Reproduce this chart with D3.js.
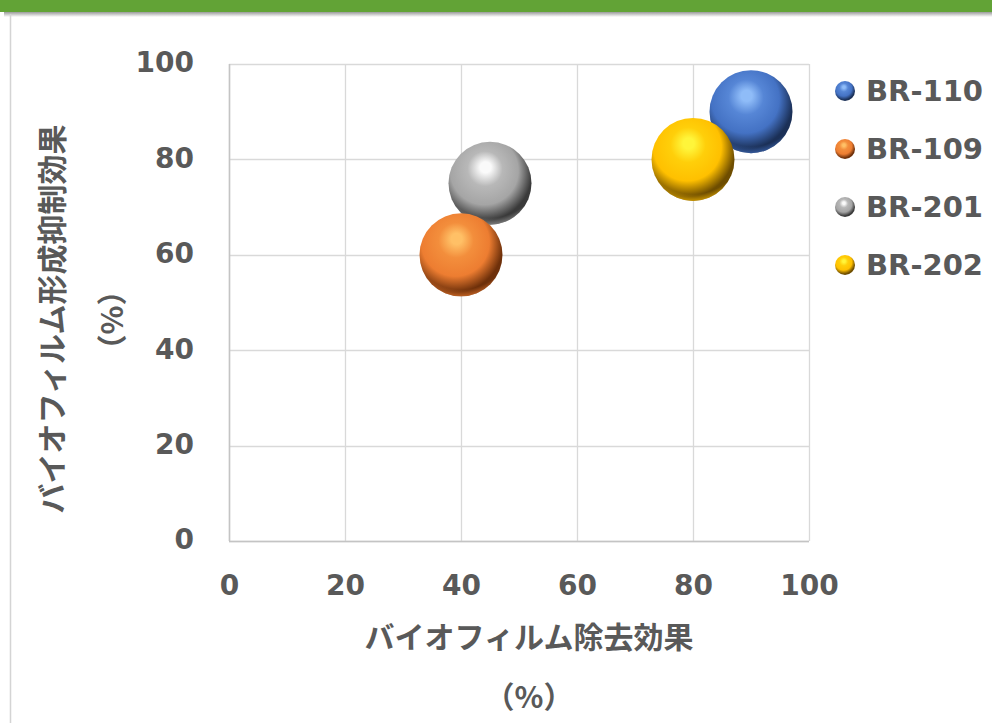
<!DOCTYPE html>
<html><head><meta charset="utf-8">
<script src="https://cdn.jsdelivr.net/npm/d3@7/dist/d3.min.js"></script>
<style>
html,body{margin:0;padding:0;background:#fff;}
svg{display:block;}
</style></head>
<body>
<svg id="chart" width="992" height="723"></svg>
<script>
const categories = ["BR-110", "BR-109", "BR-201", "BR-202"];
const xValues = [90, 40, 45, 80];
const yValues = [90, 60, 75, 80];
const sizes = [10, 10, 10, 10];
const xTicks = [0, 20, 40, 60, 80, 100];
const yTicks = [0, 20, 40, 60, 80, 100];
const xTitle = ["バイオフィルム除去効果", "（%）"];
const yTitle = ["バイオフィルム形成抑制効果", "（%）"];
const colors = [
  {base:"#4472c4", hi:"#8fbcf8", mid:"#5686d6", dark:"#1b3057"},
  {base:"#ed7d31", hi:"#ffc066", mid:"#f38e3c", dark:"#6e300a"},
  {base:"#a5a5a5", hi:"#fafafa", mid:"#b8b8b8", dark:"#3a3a3a"},
  {base:"#ffc000", hi:"#fff53a", mid:"#ffcf0a", dark:"#6e4d00"}
];
const drawOrder = [0, 2, 1, 3];

const svg = d3.select("#chart");
const W = 992, H = 723;
const m = {left: 229, right: 809, top: 64, bottom: 541};
const textColor = "#595959";
const latin = "'DejaVu Sans', Verdana, sans-serif";
const cjk = "'Noto Sans CJK JP', 'DejaVu Sans', sans-serif";

// frame
svg.append("rect").attr("x",0).attr("y",0).attr("width",W).attr("height",H).attr("fill","#fff");
const defs = svg.append("defs");
const sh = defs.append("linearGradient").attr("id","shadow").attr("x1",0).attr("y1",0).attr("x2",0).attr("y2",1);
sh.append("stop").attr("offset","0%").attr("stop-color","#9a9a9a");
sh.append("stop").attr("offset","100%").attr("stop-color","#ffffff");
svg.append("rect").attr("x",4).attr("y",12).attr("width",W).attr("height",5).attr("fill","url(#shadow)");
svg.append("rect").attr("x",0).attr("y",0).attr("width",W).attr("height",12).attr("fill","#62a336");
svg.append("line").attr("x1",10.5).attr("x2",10.5).attr("y1",14).attr("y2",H).attr("stroke","#d4d4d4").attr("stroke-width",1.5);

const x = d3.scaleLinear().domain([0,100]).range([m.left, m.right]);
const y = d3.scaleLinear().domain([0,100]).range([m.bottom, m.top]);
const r = d3.scaleSqrt().domain([0, d3.max(sizes)]).range([0, 41.5]);

// grid
const g = svg.append("g");
g.selectAll("line.vx").data(xTicks).join("line")
  .attr("x1", d => Math.round(x(d))+0.5).attr("x2", d => Math.round(x(d))+0.5)
  .attr("y1", m.top).attr("y2", m.bottom)
  .attr("stroke", "#d9d9d9").attr("stroke-width", 1.3);
g.selectAll("line.hy").data(yTicks).join("line")
  .attr("y1", d => Math.round(y(d))+0.5).attr("y2", d => Math.round(y(d))+0.5)
  .attr("x1", m.left).attr("x2", m.right)
  .attr("stroke", "#d9d9d9").attr("stroke-width", 1.3);
g.append("line").attr("x1",m.left).attr("x2",m.right).attr("y1",m.bottom+0.5).attr("y2",m.bottom+0.5).attr("stroke","#c4c4c4").attr("stroke-width",1.5);
g.append("line").attr("x1",m.left+0.5).attr("x2",m.left+0.5).attr("y1",m.top).attr("y2",m.bottom).attr("stroke","#c4c4c4").attr("stroke-width",1.5);

// axes labels
const xAxis = svg.append("g").attr("transform", `translate(0,${m.bottom+44})`)
  .call(d3.axisBottom(x).tickValues(xTicks).tickSize(0).tickPadding(0));
xAxis.select(".domain").remove();
xAxis.selectAll("text").attr("dy","0.35em").attr("font-family",latin).attr("font-weight","bold")
  .attr("font-size",28).attr("fill",textColor);
const yAxis = svg.append("g").attr("transform", `translate(${m.left-35},-2)`)
  .call(d3.axisLeft(y).tickValues(yTicks).tickSize(0).tickPadding(0));
yAxis.select(".domain").remove();
yAxis.selectAll("text").attr("dy","0.35em").attr("font-family",latin).attr("font-weight","bold")
  .attr("font-size",28).attr("fill",textColor);

// gradients
colors.forEach((c,i) => {
  const rg = defs.append("radialGradient").attr("id","ball"+i)
    .attr("cx","0.42").attr("cy","0.38").attr("r","0.66").attr("fx","0.45").attr("fy","0.3");
  rg.append("stop").attr("offset","0%").attr("stop-color",c.hi);
  rg.append("stop").attr("offset","10%").attr("stop-color",c.hi);
  rg.append("stop").attr("offset","32%").attr("stop-color",c.mid);
  rg.append("stop").attr("offset","62%").attr("stop-color",c.base);
  rg.append("stop").attr("offset","88%").attr("stop-color",c.dark);
  rg.append("stop").attr("offset","100%").attr("stop-color",c.dark);
  const rim = defs.append("radialGradient").attr("id","rim"+i)
    .attr("cx","0.5").attr("cy","0.3").attr("r","0.72");
  rim.append("stop").attr("offset","0%").attr("stop-color",c.base).attr("stop-opacity",0);
  rim.append("stop").attr("offset","86%").attr("stop-color",c.base).attr("stop-opacity",0);
  rim.append("stop").attr("offset","97%").attr("stop-color",c.base).attr("stop-opacity",0.6);
  rim.append("stop").attr("offset","100%").attr("stop-color",c.base).attr("stop-opacity",0.75);
});

// bubbles
const bub = svg.append("g");
drawOrder.forEach(i => {
  bub.append("circle").attr("cx", x(xValues[i])).attr("cy", y(yValues[i])).attr("r", r(sizes[i]))
    .attr("fill", `url(#ball${i})`);
  bub.append("circle").attr("cx", x(xValues[i])).attr("cy", y(yValues[i])).attr("r", r(sizes[i]))
    .attr("fill", `url(#rim${i})`);
});

// legend
const legY = d3.scaleBand().domain(categories).range([62, 294]);
const leg = svg.append("g");
categories.forEach((name,i) => {
  const cy = legY(name) + legY.bandwidth()/2;
  leg.append("circle").attr("cx",845).attr("cy",cy).attr("r",10).attr("fill",`url(#ball${i})`);
  leg.append("text").attr("x",866).attr("y",cy).attr("dy","0.36em")
    .attr("font-family",latin).attr("font-weight","bold").attr("font-size",29)
    .attr("fill",textColor).text(name);
});

// titles
const cxT = 529;
svg.append("text").attr("x",cxT).attr("y",637).attr("dy","0.36em").attr("text-anchor","middle")
  .attr("font-family",cjk).attr("font-weight","bold").attr("font-size",30).attr("fill",textColor).text(xTitle[0]);
svg.append("text").attr("x",cxT).attr("y",697).attr("dy","0.36em").attr("text-anchor","middle")
  .attr("font-family",cjk).attr("font-weight","bold").attr("font-size",30).attr("fill",textColor).text(xTitle[1]);
svg.append("text").attr("transform","translate(52,319) rotate(-90)").attr("dy","0.36em").attr("text-anchor","middle")
  .attr("font-family",cjk).attr("font-weight","bold").attr("font-size",30).attr("fill",textColor).text(yTitle[0]);
svg.append("text").attr("transform","translate(112,320) rotate(-90)").attr("dy","0.36em").attr("text-anchor","middle")
  .attr("font-family",cjk).attr("font-weight","bold").attr("font-size",30).attr("fill",textColor).text(yTitle[1]);
</script>
</body></html>
